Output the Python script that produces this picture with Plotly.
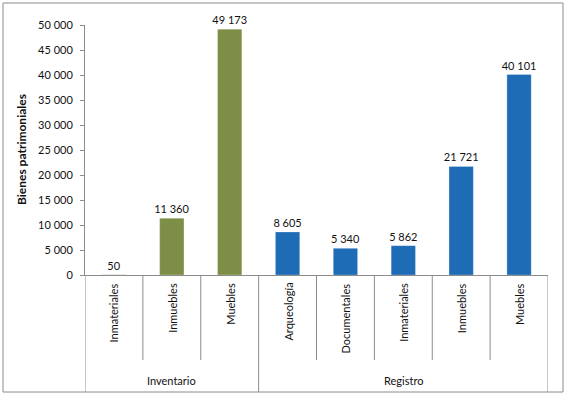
import plotly.graph_objects as go

groups = ["Inventario", "Inventario", "Inventario",
          "Registro", "Registro", "Registro", "Registro", "Registro"]
categories = ["Inmateriales", "Inmuebles", "Muebles",
              "Arqueología", "Documentales", "Inmateriales", "Inmuebles", "Muebles"]
values = [50, 11360, 49173, 8605, 5340, 5862, 21721, 40101]
group_colors = {"Inventario": "#7D8F46", "Registro": "#1F6CB6"}
y_ticks = [0, 5000, 10000, 15000, 20000, 25000, 30000, 35000, 40000, 45000, 50000]

FONT = "Lato, Open Sans, sans-serif"
W, H = 567, 395
L, R, T, B = 85, 19, 25, 120
pw, ph = W - L - R, H - T - B

def px_x(p):
    return (p - L) / pw

def px_y(p):
    return (H - B - p) / ph

n = len(categories)
xs = list(range(n))

fig = go.Figure()
fig.add_trace(go.Bar(
    x=xs, y=values,
    marker=dict(color=[group_colors[g] for g in groups],
                line=dict(color="rgba(255,255,255,0.5)", width=0.5)),
    width=0.42,
    text=[f"{v:,}".replace(",", " ") for v in values],
    textposition="outside",
    constraintext="none",
    textfont=dict(family=FONT, size=11, color="#111"),
    cliponaxis=False,
    hoverinfo="skip",
))

shapes = []
annotations = []
for i in range(n + 1):
    xb = i - 0.5
    is_group_edge = (i == 0 or i == n or groups[i - 1] != groups[i])
    y1 = px_y(392) if is_group_edge else px_y(360)
    shapes.append(dict(type="line", xref="x", yref="paper", x0=xb, x1=xb,
                       y0=0, y1=y1, line=dict(color="#8c8c8c", width=1)))
for i, c in enumerate(categories):
    annotations.append(dict(x=i, y=px_y(281), xref="x", yref="paper", text=c,
                            textangle=-90, showarrow=False, xanchor="center",
                            yanchor="top", font=dict(family=FONT, size=11, color="#111")))
ugroups = []
for g in groups:
    if g not in ugroups:
        ugroups.append(g)
for g in ugroups:
    idx = [i for i, gg in enumerate(groups) if gg == g]
    annotations.append(dict(x=(idx[0] + idx[-1]) / 2, y=px_y(380), xref="x", yref="paper",
                            text=g, showarrow=False, xanchor="center", yanchor="middle",
                            font=dict(family=FONT, size=11, color="#111")))
annotations.append(dict(x=px_x(21), y=0.5, xref="paper", yref="paper",
                        xanchor="center", yanchor="middle",
                        text="<b>Bienes patrimoniales</b>", textangle=-90, showarrow=False,
                        font=dict(family=FONT, size=12, color="#111")))
shapes.append(dict(type="rect", xref="paper", yref="paper",
                   x0=px_x(3), x1=px_x(563), y0=px_y(392), y1=px_y(3),
                   line=dict(color="#8c8c8c", width=1)))

fig.update_layout(
    width=W, height=H,
    margin=dict(l=L, r=R, t=T, b=B),
    paper_bgcolor="white", plot_bgcolor="white",
    separators=", ",
    showlegend=False,
    shapes=shapes, annotations=annotations,
    font=dict(family=FONT, size=11, color="#111"),
)
fig.update_xaxes(range=[-0.5, n - 0.5], showticklabels=False, showgrid=False,
                 zeroline=False, showline=True, linecolor="#8c8c8c", linewidth=1, ticks="")
fig.update_yaxes(range=[0, 50000], tickvals=y_ticks, tickformat=",d", showgrid=False,
                 zeroline=False, showline=True, linecolor="#8c8c8c", linewidth=1,
                 ticks="outside", ticklen=4, tickcolor="#8c8c8c", ticklabelstandoff=5,
                 tickfont=dict(family=FONT, size=11, color="#111"))

fig.write_html("out.html", config={"displayModeBar": False},
               post_script="document.body.style.margin='0';document.body.style.overflow='hidden';")
